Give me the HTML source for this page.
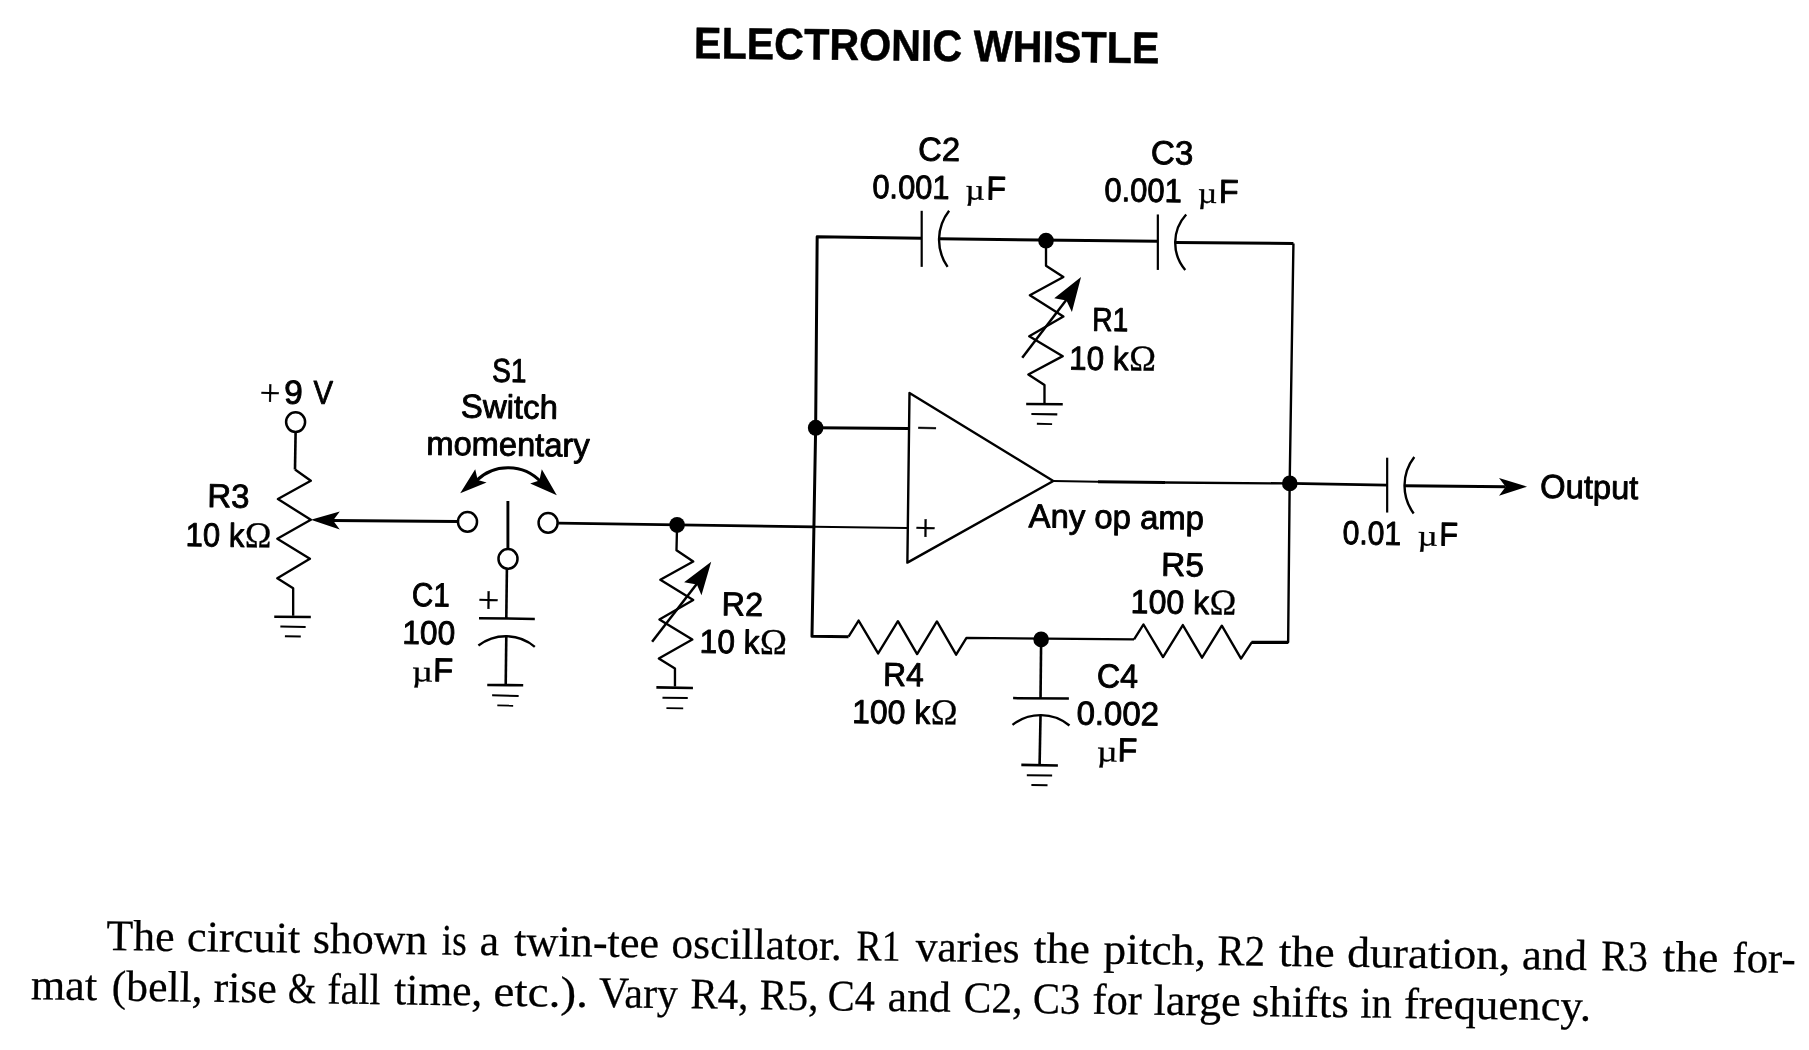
<!DOCTYPE html>
<html lang="en">
<head>
<meta charset="utf-8">
<title>Electronic Whistle</title>
<style>
html,body{margin:0;padding:0;background:#fff;}
body{width:1809px;height:1050px;overflow:hidden;}
svg{display:block;position:absolute;left:0;top:0;will-change:transform;}
.w path,.w ellipse{stroke:#000;fill:none;stroke-linecap:butt;stroke-linejoin:round;}
.w .d{fill:#000;stroke:none;}
.w .o{fill:#fff;}
text{fill:#000;font-family:"Liberation Sans",sans-serif;stroke:#000;stroke-width:0.9px;stroke-linejoin:round;}
.l{font-family:"Liberation Sans",sans-serif;stroke-width:0.9px;}
.t{font-weight:bold;stroke-width:0.5px;}
.c{font-family:"Liberation Serif",serif;stroke-width:0.25px;}
.g{font-family:"Liberation Serif",serif;stroke-width:0.3px;}
.s{font-family:"Liberation Serif",serif;stroke-width:0.3px;}
</style>
</head>
<body>
<svg width="1809" height="1050" viewBox="0 0 1809 1050">
<rect width="1809" height="1050" fill="#fff"/>
<g class="w">
<path d="M815.65 427.76 L817.17 236.7 L921.69 238.23" stroke-width="3"/>
<path d="M921.69 210.8 L921.69 266.87" stroke-width="2.2"/>
<path d="M949.11 210.8 A46.98 46.98 0 0 0 947.59 266.87" stroke-width="2.4"/>
<path d="M939.06 238.84 L1157.84 241.27" stroke-width="3"/>
<ellipse class="d" cx="1046.01" cy="240.66" rx="7.8" ry="7.956"/>
<path d="M1157.84 214.46 L1157.84 269.92" stroke-width="2.2"/>
<path d="M1186.18 214.46 A41.83 41.83 0 0 0 1185.26 269.92" stroke-width="2.4"/>
<path d="M1175.21 242.49 L1293.43 243.41" stroke-width="3" stroke-linecap="square"/>
<path d="M1293.43 243.41 L1289.67 483.6 L1288.14 642.05 L1251.58 642.05" stroke-width="2.4"/>
<path d="M1046.01 240.66 L1046.01 265.65 L1063.38 276.93 L1029.86 295.21 L1063.38 316.54 L1029.25 336.34 L1062.77 356.15 L1028.34 374.43 L1044.49 385.1 L1044.49 403.99" stroke-width="2.35"/>
<path d="M1026.2 403.99 L1062.77 404.29" stroke-width="2.6"/>
<path d="M1031.39 414.04 L1057.29 414.35" stroke-width="2.1"/>
<path d="M1036.87 423.8 L1052.11 424.1" stroke-width="1.9"/>
<path d="M1022.24 357.67 L1066.43 299.78" stroke-width="2.5"/>
<path class="d" d="M1081.05 276.93 L1054.24 298.25 L1066.43 300.39 L1071.91 311.97 Z"/>
<ellipse class="d" cx="815.65" cy="427.76" rx="7.8" ry="7.956"/>
<path d="M815.65 427.65 L908.59 428.56" stroke-width="3"/>
<path d="M558.25 523.16 L814.21 526.81" stroke-width="2.8"/>
<path d="M814.21 526.81 L907.15 528.03" stroke-width="2.1"/>
<path d="M909.5 392.91 L907.37 562.63 L1053.32 480.97 Z" stroke-width="2.4"/>
<path d="M1053.32 480.97 L1098 481.7" stroke-width="2"/>
<path d="M1098 481.7 L1165 482.5" stroke-width="3"/>
<path d="M1165 482.5 L1289.78 483.41" stroke-width="2.3"/>
<path d="M1289.78 483.41 L1387.17 485.12" stroke-width="2.6"/>
<ellipse class="d" cx="1289.78" cy="483.41" rx="7.8" ry="7.956"/>
<path d="M815.65 427.76 L811.99 636.37 L848.56 636.68" stroke-width="3"/>
<path d="M848.56 636.68 L858.61 620.53 L878.12 653.43 L897.92 621.14 L917.12 654.04 L936.93 621.44 L956.12 654.65 L966.48 637.89 L1134.07 639.42" stroke-width="2.35"/>
<path d="M1134.07 639.42 L1143.52 624.49 L1163.02 657.09 L1182.83 625.1 L1202.02 657.7 L1221.83 625.71 L1241.02 658.61 L1251.39 642.77 L1288.25 642.77" stroke-width="2.35"/>
<ellipse class="d" cx="1041.14" cy="639.42" rx="7.8" ry="7.956"/>
<path d="M1041.14 639.61 L1040.53 698.12" stroke-width="2.6"/>
<path d="M1013.1 698.12 L1068.86 698.42" stroke-width="2.5"/>
<path d="M1012.49 724.93 A45.36 45.36 0 0 1 1069.47 725.54" stroke-width="2.4"/>
<path d="M1040.53 715.18 L1039.61 764.54" stroke-width="2.6"/>
<path d="M1021.33 764.85 L1057.89 765.46" stroke-width="2.6"/>
<path d="M1026.81 775.21 L1052.11 775.51" stroke-width="2.1"/>
<path d="M1031.39 784.96 L1047.53 785.26" stroke-width="1.9"/>
<path d="M1387.17 457.7 L1387.17 512.55" stroke-width="2.2"/>
<path d="M1414.29 457.09 A46.74 46.74 0 0 0 1413.68 513.46" stroke-width="2.4"/>
<path d="M1404.54 485.73 L1505.71 486.65" stroke-width="3"/>
<path class="d" d="M1527.04 486.65 L1499 478.12 L1505.71 486.65 L1499 495.79 Z"/>
<path d="M295.6 432.33 L294.99 469.5" stroke-width="2.6"/>
<path d="M294.99 469.5 L310.83 480.78 L277.92 499.06 L310.83 519.78 L277.31 538.67 L309.92 558.78 L277.31 578.28 L293.16 588.34 L293.16 615.76" stroke-width="2.35"/>
<path d="M274.27 616.68 L310.83 616.98" stroke-width="2.6"/>
<path d="M280.36 626.43 L305.65 627.04" stroke-width="2.1"/>
<path d="M284.93 636.18 L300.78 636.48" stroke-width="1.9"/>
<ellipse class="o" cx="295.6" cy="422.1" rx="9.5" ry="9.785" stroke-width="2.5"/>
<path d="M332.16 520.39 L457.7 521.61" stroke-width="3"/>
<path class="d" d="M310.83 519.78 L339.78 511.55 L333.07 520.39 L339.78 529.53 Z"/>
<ellipse class="o" cx="467.5" cy="521.9" rx="9.5" ry="9.785" stroke-width="2.5"/>
<ellipse class="o" cx="548.1" cy="522.9" rx="9.5" ry="9.785" stroke-width="2.5"/>
<path d="M507.9 501 L507.9 549" stroke-width="2.9"/>
<ellipse class="o" cx="508" cy="558.9" rx="9.5" ry="9.785" stroke-width="2.5"/>
<path d="M476 481 A45.16 45.16 0 0 1 541 482" stroke-width="3"/>
<path class="d" d="M460.2 493.3 L475.2 469.2 L477.7 479.9 L486.6 482.4 Z"/>
<path class="d" d="M556.8 495.3 L541.8 469.2 L539.4 480.4 L530.2 483.4 Z"/>
<path d="M506.9 569 L506.3 618.5" stroke-width="2.6"/>
<path d="M479 618.2 L534.8 618.9" stroke-width="2.5"/>
<path d="M478.4 645.5 A44.94 44.94 0 0 1 534.8 646.8" stroke-width="2.4"/>
<path d="M506.3 636.2 L505.7 685.4" stroke-width="2.6"/>
<path d="M487.26 684.96 L523.21 685.26" stroke-width="2.6"/>
<path d="M492.13 695.32 L518.64 695.93" stroke-width="2.1"/>
<path d="M497.31 705.37 L513.16 705.68" stroke-width="1.9"/>
<ellipse class="d" cx="677.09" cy="524.99" rx="7.8" ry="7.956"/>
<path d="M677.09 524.99 L676.48 550.28 L693.24 561.55 L660.33 579.83 L693.24 599.94 L659.42 619.45 L692.33 639.56 L658.81 658.45 L674.96 668.5 L674.96 686.48" stroke-width="2.35"/>
<path d="M656.37 687.4 L692.94 688.01" stroke-width="2.6"/>
<path d="M662.47 697.76 L687.76 698.06" stroke-width="2.1"/>
<path d="M666.43 708.12 L683.19 708.42" stroke-width="1.9"/>
<path d="M652.11 641.69 L696.9 583.8" stroke-width="2.5"/>
<path class="d" d="M711.22 561.86 L684.1 582.27 L696.9 584.4 L701.47 595.37 Z"/>
</g>
<g class="labels">
<text class="l" y="160.55" font-size="33.2" transform="rotate(0.77 918.11 160.55)"><tspan x="918.11" y="160.55" textLength="41.85" lengthAdjust="spacingAndGlyphs">C2</tspan></text>
<text class="l" y="198.05" font-size="33.2" transform="rotate(0.77 872.17 198.05)"><tspan x="872.17" y="198.05" textLength="77.28" lengthAdjust="spacingAndGlyphs">0.001</tspan>
 <tspan x="965.35" y="198.35" class="g" font-size="29.5" textLength="19.35" lengthAdjust="spacingAndGlyphs">µ</tspan><tspan x="986.19" y="198.07" textLength="19.62" lengthAdjust="spacingAndGlyphs">F</tspan></text>
<text class="l" y="163.95" font-size="33.2" transform="rotate(0.77 1150.69 163.95)"><tspan x="1150.69" y="163.95" textLength="42.43" lengthAdjust="spacingAndGlyphs">C3</tspan></text>
<text class="l" y="201.15" font-size="33.2" transform="rotate(0.77 1104.26 201.15)"><tspan x="1104.26" y="201.15" textLength="77.58" lengthAdjust="spacingAndGlyphs">0.001</tspan>
 <tspan x="1197.80" y="201.45" class="g" font-size="29.5" textLength="19.42" lengthAdjust="spacingAndGlyphs">µ</tspan><tspan x="1218.71" y="201.17" textLength="19.70" lengthAdjust="spacingAndGlyphs">F</tspan></text>
<text class="l" y="330.71" font-size="33.2" transform="rotate(0.77 1092.04 330.71)"><tspan x="1092.04" y="330.71" textLength="36.19" lengthAdjust="spacingAndGlyphs">R1</tspan></text>
<text class="l" y="369.41" font-size="33.2" transform="rotate(0.77 1069.09 369.41)"><tspan x="1069.09" y="369.41" textLength="59.36" lengthAdjust="spacingAndGlyphs">10 k</tspan><tspan x="1128.90" y="369.71" class="g" font-size="36.5" textLength="26.87" lengthAdjust="spacingAndGlyphs">Ω</tspan></text>
<text class="s" y="405.48" font-size="38" transform="rotate(0.77 259.57 405.48)"><tspan x="259.57" y="405.48" textLength="20.89" lengthAdjust="spacingAndGlyphs">+</tspan><tspan x="283.92" y="403.17" class="l" font-size="33.2" textLength="18.60" lengthAdjust="spacingAndGlyphs">9</tspan>
 <tspan x="313.27" y="403.15" class="l" font-size="33.2" textLength="19.57" lengthAdjust="spacingAndGlyphs">V</tspan></text>
<text class="l" y="381.65" font-size="33.2" transform="rotate(0.77 492.08 381.65)"><tspan x="492.08" y="381.65" textLength="34.47" lengthAdjust="spacingAndGlyphs">S1</tspan></text>
<text class="l" y="417.55" font-size="33.2" transform="rotate(0.77 460.87 417.55)"><tspan x="460.87" y="417.55" textLength="96.89" lengthAdjust="spacingAndGlyphs">Switch</tspan></text>
<text class="l" y="454.65" font-size="33.2" transform="rotate(0.77 426.23 454.65)"><tspan x="426.23" y="454.65" textLength="163.32" lengthAdjust="spacingAndGlyphs">momentary</tspan></text>
<text class="l" y="507.14" font-size="33.2" transform="rotate(0.77 207.18 507.14)"><tspan x="207.18" y="507.14" textLength="42.10" lengthAdjust="spacingAndGlyphs">R3</tspan></text>
<text class="l" y="546.14" font-size="33.2" transform="rotate(0.77 185.54 546.14)"><tspan x="185.54" y="546.14" textLength="58.71" lengthAdjust="spacingAndGlyphs">10 k</tspan><tspan x="244.70" y="546.44" class="g" font-size="36.5" textLength="26.58" lengthAdjust="spacingAndGlyphs">Ω</tspan></text>
<text class="l" y="606.05" font-size="33.2" transform="rotate(0.77 411.77 606.05)"><tspan x="411.77" y="606.05" textLength="37.85" lengthAdjust="spacingAndGlyphs">C1</tspan></text>
<text class="l" y="643.85" font-size="33.2" transform="rotate(0.77 402.18 643.85)"><tspan x="402.18" y="643.85" textLength="52.82" lengthAdjust="spacingAndGlyphs">100</tspan></text>
<text class="g" y="681.25" font-size="29.5" transform="rotate(0.77 411.84 681.25)"><tspan x="411.84" y="681.25" textLength="21.26" lengthAdjust="spacingAndGlyphs">µ</tspan><tspan x="432.89" y="680.97" class="l" font-size="33.2" textLength="20.04" lengthAdjust="spacingAndGlyphs">F</tspan></text>
<text class="l" y="615.34" font-size="33.2" transform="rotate(0.77 721.58 615.34)"><tspan x="721.58" y="615.34" textLength="41.26" lengthAdjust="spacingAndGlyphs">R2</tspan></text>
<text class="l" y="652.82" font-size="33.2" transform="rotate(0.77 699.55 652.82)"><tspan x="699.55" y="652.82" textLength="59.80" lengthAdjust="spacingAndGlyphs">10 k</tspan><tspan x="759.80" y="653.12" class="g" font-size="36.5" textLength="27.07" lengthAdjust="spacingAndGlyphs">Ω</tspan></text>
<text class="l" y="527.15" font-size="33.2" transform="rotate(0.77 1028.55 527.15)"><tspan x="1028.55" y="527.15" textLength="175.35" lengthAdjust="spacingAndGlyphs">Any op amp</tspan></text>
<text class="l" y="575.89" font-size="33.2" transform="rotate(0.77 1161.09 575.89)"><tspan x="1161.09" y="575.89" textLength="42.77" lengthAdjust="spacingAndGlyphs">R5</tspan></text>
<text class="l" y="613.07" font-size="33.2" transform="rotate(0.77 1130.60 613.07)"><tspan x="1130.60" y="613.07" textLength="78.41" lengthAdjust="spacingAndGlyphs">100 k</tspan><tspan x="1209.51" y="613.37" class="g" font-size="36.5" textLength="26.71" lengthAdjust="spacingAndGlyphs">Ω</tspan></text>
<text class="l" y="685.78" font-size="33.2" transform="rotate(0.77 883.03 685.78)"><tspan x="883.03" y="685.78" textLength="40.56" lengthAdjust="spacingAndGlyphs">R4</tspan></text>
<text class="l" y="722.96" font-size="33.2" transform="rotate(0.77 852.09 722.96)"><tspan x="852.09" y="722.96" textLength="78.18" lengthAdjust="spacingAndGlyphs">100 k</tspan><tspan x="930.78" y="723.26" class="g" font-size="36.5" textLength="26.63" lengthAdjust="spacingAndGlyphs">Ω</tspan></text>
<text class="l" y="687.31" font-size="33.2" transform="rotate(0.77 1096.65 687.31)"><tspan x="1096.65" y="687.31" textLength="41.16" lengthAdjust="spacingAndGlyphs">C4</tspan></text>
<text class="l" y="724.48" font-size="33.2" transform="rotate(0.77 1076.39 724.48)"><tspan x="1076.39" y="724.48" textLength="82.53" lengthAdjust="spacingAndGlyphs">0.002</tspan></text>
<text class="g" y="761.35" font-size="29.5" transform="rotate(0.77 1096.87 761.35)"><tspan x="1096.87" y="761.35" textLength="20.88" lengthAdjust="spacingAndGlyphs">µ</tspan><tspan x="1117.55" y="761.07" class="l" font-size="33.2" textLength="19.66" lengthAdjust="spacingAndGlyphs">F</tspan></text>
<text class="l" y="497.78" font-size="33.2" transform="rotate(0.77 1540.03 497.78)"><tspan x="1540.03" y="497.78" textLength="98.17" lengthAdjust="spacingAndGlyphs">Output</tspan></text>
<text class="l" y="544.09" font-size="33.2" transform="rotate(0.77 1342.38 544.09)"><tspan x="1342.38" y="544.09" textLength="58.68" lengthAdjust="spacingAndGlyphs">0.01</tspan>
 <tspan x="1417.52" y="544.39" class="g" font-size="29.5" textLength="20.12" lengthAdjust="spacingAndGlyphs">µ</tspan><tspan x="1439.28" y="544.11" textLength="18.63" lengthAdjust="spacingAndGlyphs">F</tspan></text>
<text class="s" y="540.45" font-size="38" transform="rotate(0.77 914.62 540.45)"><tspan x="914.62" y="540.45" textLength="21.72" lengthAdjust="spacingAndGlyphs">+</tspan></text>
<text class="s" y="440.45" font-size="38" transform="rotate(0.77 916.18 440.45)"><tspan x="916.18" y="440.45" textLength="21.35" lengthAdjust="spacingAndGlyphs">−</tspan></text>
<text class="s" y="612.55" font-size="38" transform="rotate(0.77 477.42 612.55)"><tspan x="477.42" y="612.55" textLength="21.73" lengthAdjust="spacingAndGlyphs">+</tspan></text>
<text class="t" y="58.32" font-size="44.3" transform="rotate(0.62 693.87 58.32)"><tspan x="693.87" y="58.32" textLength="465.43" lengthAdjust="spacingAndGlyphs">ELECTRONIC WHISTLE</tspan></text>
<text class="c" y="949.98" font-size="43.6" transform="rotate(0.78 106.37 949.98)"><tspan x="106.37" y="949.98" textLength="68.09" lengthAdjust="spacingAndGlyphs">The</tspan>
 <tspan x="186.78" y="949.99" textLength="113.43" lengthAdjust="spacingAndGlyphs">circuit</tspan>
 <tspan x="312.69" y="949.99" textLength="114.56" lengthAdjust="spacingAndGlyphs">shown</tspan>
 <tspan x="441.50" y="949.98" textLength="25.09" lengthAdjust="spacingAndGlyphs">is</tspan>
 <tspan x="479.52" y="949.99" textLength="19.47" lengthAdjust="spacingAndGlyphs">a</tspan>
 <tspan x="514.04" y="949.97" textLength="144.97" lengthAdjust="spacingAndGlyphs">twin-tee</tspan>
 <tspan x="671.36" y="949.99" textLength="170.30" lengthAdjust="spacingAndGlyphs">oscillator.</tspan>
 <tspan x="856.25" y="949.98" textLength="44.17" lengthAdjust="spacingAndGlyphs">R1</tspan>
 <tspan x="915.50" y="949.97" textLength="104.04" lengthAdjust="spacingAndGlyphs">varies</tspan>
 <tspan x="1033.58" y="949.97" textLength="56.34" lengthAdjust="spacingAndGlyphs">the</tspan>
 <tspan x="1103.33" y="949.98" textLength="102.57" lengthAdjust="spacingAndGlyphs">pitch,</tspan>
 <tspan x="1217.31" y="949.98" textLength="47.61" lengthAdjust="spacingAndGlyphs">R2</tspan>
 <tspan x="1278.81" y="949.97" textLength="55.72" lengthAdjust="spacingAndGlyphs">the</tspan>
 <tspan x="1347.04" y="949.99" textLength="163.38" lengthAdjust="spacingAndGlyphs">duration,</tspan>
 <tspan x="1521.88" y="949.99" textLength="65.18" lengthAdjust="spacingAndGlyphs">and</tspan>
 <tspan x="1601.26" y="949.98" textLength="46.65" lengthAdjust="spacingAndGlyphs">R3</tspan>
 <tspan x="1662.74" y="949.97" textLength="55.62" lengthAdjust="spacingAndGlyphs">the</tspan>
 <tspan x="1732.29" y="949.98" textLength="63.45" lengthAdjust="spacingAndGlyphs">for-</tspan></text>
<text class="c" y="999.38" font-size="43.6" transform="rotate(0.78 30.74 999.38)"><tspan x="30.74" y="999.38" textLength="66.26" lengthAdjust="spacingAndGlyphs">mat</tspan>
 <tspan x="111.59" y="999.39" textLength="90.92" lengthAdjust="spacingAndGlyphs">(bell,</tspan>
 <tspan x="213.47" y="999.37" textLength="63.10" lengthAdjust="spacingAndGlyphs">rise</tspan>
 <tspan x="287.79" y="999.38" textLength="28.06" lengthAdjust="spacingAndGlyphs">&amp;</tspan>
 <tspan x="327.26" y="999.38" textLength="53.16" lengthAdjust="spacingAndGlyphs">fall</tspan>
 <tspan x="394.04" y="999.37" textLength="88.28" lengthAdjust="spacingAndGlyphs">time,</tspan>
 <tspan x="493.31" y="999.39" textLength="94.69" lengthAdjust="spacingAndGlyphs">etc.).</tspan>
 <tspan x="598.86" y="999.37" textLength="78.97" lengthAdjust="spacingAndGlyphs">Vary</tspan>
 <tspan x="690.26" y="999.38" textLength="58.14" lengthAdjust="spacingAndGlyphs">R4,</tspan>
 <tspan x="759.56" y="999.38" textLength="58.78" lengthAdjust="spacingAndGlyphs">R5,</tspan>
 <tspan x="827.48" y="999.39" textLength="47.28" lengthAdjust="spacingAndGlyphs">C4</tspan>
 <tspan x="887.57" y="999.38" textLength="63.12" lengthAdjust="spacingAndGlyphs">and</tspan>
 <tspan x="963.55" y="999.39" textLength="58.91" lengthAdjust="spacingAndGlyphs">C2,</tspan>
 <tspan x="1032.79" y="999.39" textLength="47.40" lengthAdjust="spacingAndGlyphs">C3</tspan>
 <tspan x="1092.45" y="999.38" textLength="49.36" lengthAdjust="spacingAndGlyphs">for</tspan>
 <tspan x="1153.65" y="999.37" textLength="87.02" lengthAdjust="spacingAndGlyphs">large</tspan>
 <tspan x="1251.85" y="999.39" textLength="96.97" lengthAdjust="spacingAndGlyphs">shifts</tspan>
 <tspan x="1360.44" y="999.37" textLength="31.36" lengthAdjust="spacingAndGlyphs">in</tspan>
 <tspan x="1403.81" y="999.38" textLength="187.41" lengthAdjust="spacingAndGlyphs">frequency.</tspan></text>
</g>
</svg>
</body>
</html>
